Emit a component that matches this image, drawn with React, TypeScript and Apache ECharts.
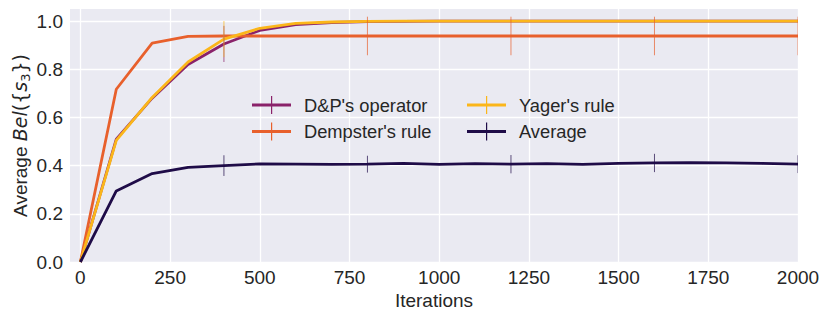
import React, { useEffect, useRef } from "react";
import * as echarts from "echarts";

const iterations = [0, 100, 200, 300, 400, 500, 600, 700, 800, 900, 1000, 1100, 1200, 1300, 1400, 1500, 1600, 1700, 1800, 1900, 2000];
const dpOperator = [0, 0.51, 0.68, 0.82, 0.905, 0.961, 0.985, 0.994, 0.998, 0.999, 1.0, 1.0, 1.0, 1.0, 1.0, 1.0, 1.0, 1.0, 1.0, 1.0, 1.0];
const dempsterRule = [0, 0.717, 0.908, 0.936, 0.938, 0.938, 0.938, 0.938, 0.938, 0.938, 0.938, 0.938, 0.938, 0.938, 0.938, 0.938, 0.938, 0.938, 0.938, 0.938, 0.938];
const yagerRule = [0, 0.505, 0.683, 0.83, 0.925, 0.97, 0.99, 0.996, 0.999, 1.0, 1.0, 1.0, 1.0, 1.0, 1.0, 1.0, 1.0, 1.0, 1.0, 1.0, 1.0];
const average = [0, 0.295, 0.367, 0.393, 0.4, 0.407, 0.406, 0.405, 0.406, 0.409, 0.405, 0.408, 0.406, 0.408, 0.405, 0.409, 0.411, 0.412, 0.411, 0.409, 0.406];

const errIterations = [400, 800, 1200, 1600, 2000];
const dpErr = [0.075, 0, 0, 0, 0];
const dempsterErr = [0, 0.08, 0.08, 0.08, 0.08];
const yagerErr = [0.075, 0, 0, 0, 0];
const averageErr = [0.043, 0.035, 0.038, 0.038, 0.037];

const xTicks = [0, 250, 500, 750, 1000, 1250, 1500, 1750, 2000];
const yTicks = [0, 0.2, 0.4, 0.6, 0.8, 1.0];

const names = ["D&P's operator", "Dempster's rule", "Yager's rule", "Average"];
const colors = ["#8a226a", "#e8602c", "#fbb61a", "#1f0c48"];
const values = [dpOperator, dempsterRule, yagerRule, average];
const errs = [dpErr, dempsterErr, yagerErr, averageErr];

const TXT = "#262626";
const FONT = "Liberation Sans";
const FS = 19;

export default function App() {
  const ref = useRef<HTMLDivElement>(null);
  useEffect(() => {
    if (!ref.current) return;
    const chart = echarts.init(ref.current, null, { renderer: "svg" });
    const lineSeries = names.map((n, i) => ({
      name: n,
      type: "line",
      data: iterations.map((x, j) => [x, values[i][j]]),
      symbol: "none",
      color: colors[i],
      lineStyle: { width: 2.8, color: colors[i] },
      z: 3 + i,
    }));
    const errSeries = names.map((n, i) => ({
      name: n,
      type: "custom",
      clip: true,
      z: i === 2 ? 9 : 8,
      data: errIterations.map((x) => {
        const k = iterations.indexOf(x);
        const j = errIterations.indexOf(x);
        return [x, values[i][k], errs[i][j]];
      }),
      renderItem: (params: any, api: any) => {
        const x = api.value(0);
        const y = api.value(1);
        const e = api.value(2);
        if (!e) return null;
        const p1 = api.coord([x, y - e]);
        const p2 = api.coord([x, y + e]);
        return {
          type: "line",
          shape: { x1: p1[0], y1: p1[1], x2: p2[0], y2: p2[1] },
          style: { stroke: colors[i], lineWidth: 1, opacity: 0.7 },
        };
      },
    }));
    const icon = "path://M0,7.5L39,7.5L39,10.5L0,10.5Z M19,0L20.2,0L20.2,18L19,18Z";
    const legendCommon = {
      orient: "vertical",
      top: 94,
      padding: 0,
      itemWidth: 39,
      itemHeight: 18,
      itemGap: 4.5,
      icon,
      textStyle: { color: TXT, fontSize: 18.3, fontFamily: FONT, lineHeight: 22, padding: [0, 0, 0, 8] },
      selectedMode: false,
    };
    chart.setOption({
      animation: false,
      backgroundColor: "#ffffff",
      grid: {
        left: 70,
        top: 9,
        width: 728,
        height: 253,
        show: true,
        backgroundColor: "#eaeaf2",
        borderWidth: 0,
        containLabel: false,
        outerBoundsMode: "none",
      },
      legend: [
        { ...legendCommon, left: 252, data: [names[0], names[1]] },
        { ...legendCommon, left: 467, data: [names[2], names[3]] },
      ],
      xAxis: {
        type: "value",
        min: -29,
        max: 2000,
        name: "Iterations",
        nameLocation: "middle",
        nameGap: 29,
        nameMoveOverlap: false,
        nameTextStyle: { color: TXT, fontSize: FS, fontFamily: FONT },
        axisLine: { show: false },
        axisTick: { show: false, customValues: xTicks },
        axisLabel: {
          customValues: xTicks,
          color: TXT,
          fontSize: FS,
          fontFamily: FONT,
          margin: 6,
          formatter: (v: number) => String(v),
        },
        splitLine: { show: true, lineStyle: { color: "#ffffff", width: 1.3 } },
      },
      yAxis: {
        type: "value",
        min: 0,
        max: 1.05,
        name: "{n|Average }{it|Bel}{m|({}{it|s}{sub|3}})",
        nameLocation: "middle",
        nameGap: 38,
        nameMoveOverlap: false,
        nameRotate: 90,
        nameTextStyle: {
          color: TXT,
          fontSize: FS,
          fontFamily: "DejaVu Sans",
          lineHeight: 24,
          rich: {
            n: { fontFamily: FONT, fontSize: FS, color: TXT, lineHeight: 24 },
            it: { fontFamily: "DejaVu Sans", fontStyle: "italic", fontSize: FS, color: TXT, lineHeight: 24 },
            m: { fontFamily: "DejaVu Sans", fontSize: FS, color: TXT, lineHeight: 24 },
            sub: { fontFamily: "DejaVu Sans", fontSize: 13, color: TXT, lineHeight: 15, verticalAlign: "bottom" },
          },
        },
        axisLine: { show: false },
        axisTick: { show: false, customValues: yTicks },
        axisLabel: {
          customValues: yTicks,
          color: TXT,
          fontSize: FS,
          fontFamily: FONT,
          margin: 7,
          formatter: (v: number) => v.toFixed(1),
        },
        splitLine: { show: true, lineStyle: { color: "#ffffff", width: 1.3 } },
      },
      series: [...lineSeries, ...errSeries],
    });
    return () => chart.dispose();
  }, []);
  return <div ref={ref} style={{ position: "fixed", left: 0, top: 0, width: 831, height: 321 }} />;
}
